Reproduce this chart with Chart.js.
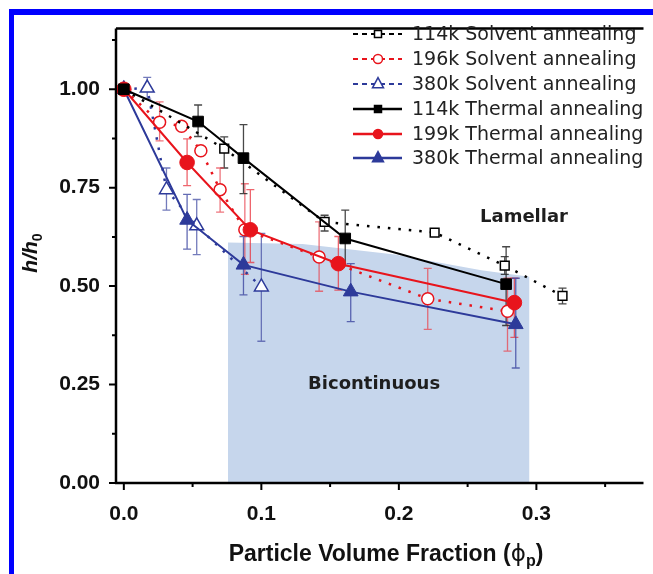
<!DOCTYPE html>
<html>
<head>
<meta charset="utf-8">
<script src="https://cdn.jsdelivr.net/npm/chart.js@4.4.0/dist/chart.umd.min.js"></script>
<style>
	body { margin: 0; background: #fff; overflow: hidden; }
	#wrap { position: relative; width: 653px; height: 574px; }
	#frame { position: absolute; left: 9px; top: 9px; width: 700px; height: 600px;
		border-left: 5px solid #0000ff; border-top: 6px solid #0000ff; pointer-events: none; }
</style>
</head>
<body>
<div id="wrap">
	<canvas id="filmChart" width="653" height="574"></canvas>
	<div id="frame"></div>
</div>
<script>
//	Axis ticks and labels
var xTicks = [0, 0.05, 0.1, 0.15, 0.2, 0.25, 0.3, 0.35];
var xLabels = ['0.0', '', '0.1', '', '0.2', '', '0.3', ''];
var yTicks = [0, 0.125, 0.25, 0.375, 0.5, 0.625, 0.75, 0.875, 1.0, 1.125];
var yLabels = ['0.00', '', '0.25', '', '0.50', '', '0.75', '', '1.00', ''];

//	114k Solvent annealing
var solv114X = [0, 0.073, 0.146, 0.226, 0.277, 0.319];
var solv114Y = [1.00, 0.849, 0.663, 0.636, 0.552, 0.475];
var solv114Lo = [null, 0.80, 0.64, null, 0.53, 0.455];
var solv114Hi = [null, 0.879, 0.68, null, 0.575, 0.495];

//	196k Solvent annealing
var solv196X = [0, 0.026, 0.042, 0.056, 0.070, 0.088, 0.142, 0.221, 0.279];
var solv196Y = [1.00, 0.916, 0.906, 0.844, 0.745, 0.643, 0.574, 0.468, 0.436];
var solv196Lo = [null, 0.869, null, null, 0.688, 0.53, 0.487, 0.39, 0.335];
var solv196Hi = [null, 0.968, null, null, 0.80, 0.76, 0.663, 0.545, 0.52];

//	380k Solvent annealing
var solv380X = [0, 0.017, 0.031, 0.053, 0.100];
var solv380Y = [1.00, 1.003, 0.745, 0.653, 0.498];
var solv380Lo = [null, 0.975, 0.693, 0.58, 0.36];
var solv380Hi = [null, 1.03, 0.80, 0.72, 0.634];

//	114k Thermal annealing
var therm114X = [0, 0.054, 0.087, 0.161, 0.278];
var therm114Y = [1.00, 0.918, 0.825, 0.621, 0.505];
var therm114Lo = [null, 0.88, 0.735, 0.552, 0.40];
var therm114Hi = [null, 0.96, 0.91, 0.693, 0.60];

//	199k Thermal annealing
var therm199X = [0, 0.046, 0.092, 0.156, 0.284];
var therm199Y = [1.00, 0.814, 0.643, 0.557, 0.458];
var therm199Lo = [null, 0.755, 0.56, 0.49, 0.37];
var therm199Hi = [null, 0.874, 0.745, 0.626, 0.52];

//	380k Thermal annealing
var therm380X = [0, 0.046, 0.087, 0.165, 0.285];
var therm380Y = [1.00, 0.668, 0.554, 0.486, 0.403];
var therm380Lo = [null, 0.594, 0.478, 0.41, 0.292];
var therm380Hi = [null, 0.733, 0.626, 0.557, 0.52];

//	Bicontinuous region outline (top edge)
var shadeX = [0.0757, 0.13, 0.197, 0.26, 0.295];
var shadeY = [0.611, 0.607, 0.58, 0.54, 0.524];

//	Region labels, in data units
var regionText = ['Lamellar', 'Bicontinuous'];
var regionX = [0.291, 0.182];
var regionY = [0.675, 0.251];

var BLACK = '#000000', RED = '#e8141c', BLUE = '#2d3a9a';

function toPoints(xs, ys) {
	var pts = [];
	for (let i = 0; i < xs.length; i++) {
		pts.push({ x: xs[i], y: ys[i] });
	}
	return pts;
}

/**
 *	Builds one series, solvent ones dotted with open markers
 */
function series(label, xs, ys, lo, hi, color, barColor, marker, solvent, radius) {
	return {
		label: label,
		data: toPoints(xs, ys),
		errLo: lo,
		errHi: hi,
		barColor: barColor,
		solvent: solvent,
		showLine: true,
		borderColor: color,
		borderWidth: solvent ? 2.5 : 2,
		borderDash: solvent ? [2.5, 8] : [],
		pointStyle: marker,
		pointRadius: radius,
		pointBackgroundColor: solvent ? '#ffffff' : color,
		pointBorderColor: color,
		pointBorderWidth: solvent ? 1.5 : 1,
		order: solvent ? 2 : 1,
		tension: 0
	};
}

var datasets = [
	series('114k Solvent annealing', solv114X, solv114Y, solv114Lo, solv114Hi, BLACK, 'rgba(40,40,40,0.85)', 'rect', true, 6.2),
	series('196k Solvent annealing', solv196X, solv196Y, solv196Lo, solv196Hi, RED, 'rgba(232,70,80,0.75)', 'circle', true, 6),
	series('380k Solvent annealing', solv380X, solv380Y, solv380Lo, solv380Hi, BLUE, 'rgba(80,90,170,0.8)', 'triangle', true, 8),
	series('114k Thermal annealing', therm114X, therm114Y, therm114Lo, therm114Hi, BLACK, 'rgba(40,40,40,0.85)', 'rect', false, 7.5),
	series('199k Thermal annealing', therm199X, therm199Y, therm199Lo, therm199Hi, RED, 'rgba(232,50,60,0.75)', 'circle', false, 7.3),
	series('380k Thermal annealing', therm380X, therm380Y, therm380Lo, therm380Hi, BLUE, 'rgba(60,70,160,0.8)', 'triangle', false, 8.5),
	{
		label: 'shade',
		data: toPoints(shadeX, shadeY),
		showLine: true,
		fill: 'origin',
		backgroundColor: '#c6d6ec',
		borderWidth: 0,
		pointRadius: 0,
		order: 10
	}
];
var SHADE_INDEX = 6;

function drawMarker(ctx, style, x, y, r, fill, stroke, lw) {
	ctx.beginPath();
	if (style === 'rect') {
		ctx.rect(x - r, y - r, 2 * r, 2 * r);
	} else if (style === 'circle') {
		ctx.arc(x, y, r, 0, Math.PI * 2);
	} else {
		ctx.moveTo(x, y - r * 1.15);
		ctx.lineTo(x + r, y + r * 0.7);
		ctx.lineTo(x - r, y + r * 0.7);
		ctx.closePath();
	}
	ctx.fillStyle = fill;
	ctx.fill();
	ctx.lineWidth = lw;
	ctx.strokeStyle = stroke;
	ctx.stroke();
}

/**
 *	Error bars, region labels, axes, ticks, titles and the legend
 */
var decorations = {
	id: 'decorations',
	afterDatasetDraw: function (chart, args) {
		if (args.index !== SHADE_INDEX) return;
		var ctx = chart.ctx, xs = chart.scales.x, ys = chart.scales.y;
		ctx.save();
		//	Region labels
		ctx.font = 'bold 18px "DejaVu Sans"';
		ctx.fillStyle = '#1e1e1e';
		ctx.textAlign = 'center';
		ctx.textBaseline = 'middle';
		for (let i = 0; i < regionText.length; i++) {
			ctx.fillText(regionText[i], xs.getPixelForValue(regionX[i]), ys.getPixelForValue(regionY[i]));
		}
		//	Error bars
		chart.data.datasets.forEach(function (ds) {
			if (!ds.errLo) return;
			ctx.strokeStyle = ds.barColor;
			ctx.lineWidth = 1.3;
			for (let i = 0; i < ds.data.length; i++) {
				if (ds.errLo[i] === null) continue;
				var px = xs.getPixelForValue(ds.data[i].x);
				var p0 = ys.getPixelForValue(ds.errLo[i]);
				var p1 = ys.getPixelForValue(ds.errHi[i]);
				ctx.beginPath();
				ctx.moveTo(px, p0); ctx.lineTo(px, p1);
				ctx.moveTo(px - 4, p0); ctx.lineTo(px + 4, p0);
				ctx.moveTo(px - 4, p1); ctx.lineTo(px + 4, p1);
				ctx.stroke();
			}
		});
		ctx.restore();
	},
	afterDraw: function (chart) {
		var ctx = chart.ctx, area = chart.chartArea;
		var xs = chart.scales.x, ys = chart.scales.y;
		ctx.save();
		ctx.strokeStyle = '#000';
		//	Axis lines and top frame line
		ctx.lineWidth = 2.5;
		ctx.beginPath();
		ctx.moveTo(area.left, area.top); ctx.lineTo(area.right, area.top);
		ctx.moveTo(area.left, area.top); ctx.lineTo(area.left, area.bottom + 1);
		ctx.moveTo(area.left - 1, area.bottom); ctx.lineTo(area.right, area.bottom);
		ctx.stroke();
		//	Major and minor ticks
		ctx.lineWidth = 2;
		ctx.beginPath();
		for (let i = 0; i < xTicks.length; i++) {
			var tx = xs.getPixelForValue(xTicks[i]);
			ctx.moveTo(tx, area.bottom);
			ctx.lineTo(tx, area.bottom + (xLabels[i] ? 7 : 4));
		}
		for (let i = 0; i < yTicks.length; i++) {
			var ty = ys.getPixelForValue(yTicks[i]);
			ctx.moveTo(area.left, ty);
			ctx.lineTo(area.left - (yLabels[i] ? 7 : 4), ty);
		}
		ctx.stroke();

		//	X axis title with subscript
		ctx.fillStyle = '#111';
		ctx.textBaseline = 'alphabetic';
		ctx.textAlign = 'left';
		var mainFont = 'bold 23px "Liberation Sans"';
		var phiFont = '23px "DejaVu Sans"';
		var subFont = 'bold 16px "Liberation Sans"';
		var part1 = 'Particle Volume Fraction (', phi = '\u03d5', sub = 'p', part2 = ')';
		ctx.font = mainFont; var w1 = ctx.measureText(part1).width, w4 = ctx.measureText(part2).width;
		ctx.font = phiFont; var w2 = ctx.measureText(phi).width;
		ctx.font = subFont; var w3 = ctx.measureText(sub).width;
		var sx = 386 - (w1 + w2 + w3 + w4) / 2, base = 561;
		ctx.font = mainFont; ctx.fillText(part1, sx, base);
		ctx.font = phiFont; ctx.fillText(phi, sx + w1, base);
		ctx.font = subFont; ctx.fillText(sub, sx + w1 + w2, base + 5);
		ctx.font = mainFont; ctx.fillText(part2, sx + w1 + w2 + w3, base);

		//	Y axis title h/h0, rotated
		ctx.save();
		ctx.translate(37, 253);
		ctx.rotate(-Math.PI / 2);
		ctx.font = 'italic bold 21px "Liberation Sans"';
		var yw1 = ctx.measureText('h/h').width;
		ctx.font = 'bold 14px "Liberation Sans"';
		var yw2 = ctx.measureText('0').width;
		ctx.font = 'italic bold 21px "Liberation Sans"';
		ctx.fillText('h/h', -(yw1 + yw2) / 2, 0);
		ctx.font = 'bold 14px "Liberation Sans"';
		ctx.fillText('0', -(yw1 + yw2) / 2 + yw1, 5);
		ctx.restore();

		//	Legend
		var rowY = [34, 59, 84, 109, 134, 158];
		ctx.font = '19px "DejaVu Sans"';
		ctx.textBaseline = 'middle';
		for (let i = 0; i < 6; i++) {
			var ds = chart.data.datasets[i];
			ctx.strokeStyle = ds.borderColor;
			ctx.lineWidth = ds.solvent ? 2 : 2.5;
			ctx.setLineDash(ds.solvent ? [5, 4] : []);
			ctx.beginPath();
			ctx.moveTo(353, rowY[i]); ctx.lineTo(402, rowY[i]);
			ctx.stroke();
			ctx.setLineDash([]);
			var r = ds.pointStyle === 'rect' ? 3.5 : (ds.pointStyle === 'circle' ? 4.5 : 5.5);
			drawMarker(ctx, ds.pointStyle, 378, rowY[i], r, ds.pointBackgroundColor, ds.borderColor, 1.5);
			ctx.fillStyle = '#222';
			ctx.fillText(ds.label, 412, rowY[i] + 1);
		}
		ctx.restore();
	}
};

var ctx = document.getElementById('filmChart');
var filmChart = new Chart(ctx, {
	type: 'scatter',
	data: { datasets: datasets },
	options: {
		responsive: false,
		animation: false,
		events: [],
		layout: { padding: { top: 18, left: 0, right: 0, bottom: 0 } },
		plugins: {
			legend: { display: false },
			tooltip: { enabled: false }
		},
		scales: {
			x: {
				type: 'linear',
				min: -0.0057,
				max: 0.3779,
				afterFit: function (scale) { scale.height = 91; },
				afterBuildTicks: function (scale) {
					scale.ticks = xTicks.map(function (v) { return { value: v }; });
				},
				grid: { display: false, drawTicks: false },
				border: { display: false },
				ticks: {
					autoSkip: false,
					maxRotation: 0,
					padding: 19,
					color: '#111',
					font: { family: '"Liberation Sans"', size: 21, weight: 'bold' },
					callback: function (v, i) { return xLabels[i]; }
				}
			},
			y: {
				min: 0,
				max: 1.154,
				afterFit: function (scale) { scale.width = 116; },
				afterBuildTicks: function (scale) {
					scale.ticks = yTicks.map(function (v) { return { value: v }; });
				},
				grid: { display: false, drawTicks: false },
				border: { display: false },
				ticks: {
					autoSkip: false,
					padding: 16,
					color: '#111',
					font: { family: '"Liberation Sans"', size: 21, weight: 'bold' },
					callback: function (v, i) { return yLabels[i]; }
				}
			}
		}
	},
	plugins: [decorations]
});
</script>
</body>
</html>
